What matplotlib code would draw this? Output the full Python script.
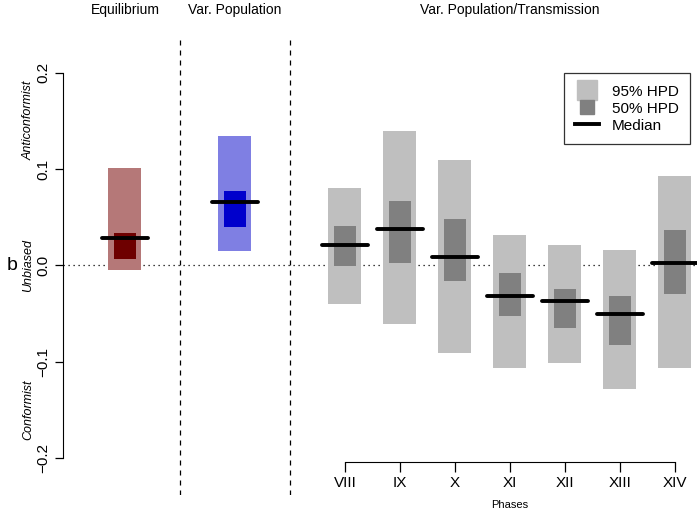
import matplotlib
matplotlib.use('Agg')
import matplotlib.pyplot as plt
from matplotlib.lines import Line2D

plt.rcParams['font.family'] = ['Liberation Sans', 'DejaVu Sans']

# group order: Equilibrium, Var. Population, phases VIII..XIV
groups = ['Equilibrium', 'Var. Population', 'VIII', 'IX', 'X', 'XI', 'XII', 'XIII', 'XIV']
phases = ['VIII', 'IX', 'X', 'XI', 'XII', 'XIII', 'XIV']
hpd95_hi = [0.101, 0.134, 0.080, 0.139, 0.109, 0.031, 0.021, 0.016, 0.093]
hpd95_lo = [-0.005, 0.015, -0.040, -0.061, -0.091, -0.107, -0.101, -0.128, -0.107]
hpd50_hi = [0.033, 0.077, 0.041, 0.067, 0.048, -0.008, -0.025, -0.032, 0.037]
hpd50_lo = [0.006, 0.040, -0.001, 0.002, -0.016, -0.053, -0.065, -0.083, -0.030]
medians = [0.028, 0.066, 0.021, 0.038, 0.009, -0.032, -0.037, -0.051, 0.002]

light_cols = ['#b57878', '#7f7fe3'] + ['#bfbfbf'] * 7
dark_cols = ['#6e0000', '#0000cc'] + ['#808080'] * 7
xpos = [0, 2, 4, 5, 6, 7, 8, 9, 10]

fig = plt.figure(figsize=(6.97, 5.13), dpi=100)
ax = fig.add_axes([63 / 697, 18 / 513, 634 / 697, 457 / 513])
ax.set_xlim(-1.127, 10.4)
ax.set_ylim(-0.2386, 0.236)

for i, x in enumerate(xpos):
    ax.bar(x, hpd95_hi[i] - hpd95_lo[i], bottom=hpd95_lo[i], width=0.6,
           color=light_cols[i], linewidth=0, zorder=2)
    ax.bar(x, hpd50_hi[i] - hpd50_lo[i], bottom=hpd50_lo[i], width=0.4,
           color=dark_cols[i], linewidth=0, zorder=3)
    ax.plot([x - 0.42, x + 0.42], [medians[i], medians[i]], color='black',
            lw=2.8, solid_capstyle='round', zorder=4)

ax.axhline(0, color='black', ls=(0, (1, 3)), lw=0.9, zorder=1)
for xv in [1, 3]:
    ax.axvline(xv, color='black', ls=(0, (4, 4)), lw=0.9, zorder=1)

# axes
for s in ['top', 'right']:
    ax.spines[s].set_visible(False)
ax.spines['left'].set_bounds(-0.2, 0.2)
ax.spines['bottom'].set_position(('data', -0.2043))
ax.spines['bottom'].set_bounds(4, 10)
ax.set_yticks([-0.2, -0.1, 0.0, 0.1, 0.2])
ax.set_yticklabels(['\u22120.2', '\u22120.1', '0.0', '0.1', '0.2'],
                   rotation=90, va='center', fontsize=11)
ax.set_xticks(range(4, 11))
ax.set_xticklabels(phases, fontsize=11)
ax.tick_params(axis='y', length=6, width=0.9, pad=3)
ax.tick_params(axis='x', length=7, width=0.9, pad=3)

ax.text(7, -0.2485, 'Phases', ha='center', va='center', fontsize=8)

# group titles
ax.text(0, 0.265, 'Equilibrium', ha='center', va='center', fontsize=10)
ax.text(2, 0.265, 'Var. Population', ha='center', va='center', fontsize=10)
ax.text(7, 0.265, 'Var. Population/Transmission', ha='center', va='center', fontsize=10)

# y-axis side labels
for lab, yv in [('Anticonformist', 0.15), ('Unbiased', 0.0), ('Conformist', -0.15)]:
    ax.text(-1.76, yv, lab, rotation=90, ha='center', va='center',
            fontsize=9, style='italic', clip_on=False)
ax.text(-2.15, 0.0, 'b', ha='left', va='center', fontsize=14, clip_on=False)

handles = [
    Line2D([], [], marker='s', ms=15, color='#bfbfbf', ls='none'),
    Line2D([], [], marker='s', ms=10, color='#808080', ls='none'),
    Line2D([], [], color='black', lw=2.8),
]
leg = ax.legend(handles, ['95% HPD', '50% HPD', 'Median'], loc='upper right',
                bbox_to_anchor=(0.989, 0.923), fontsize=11, fancybox=False,
                framealpha=1, edgecolor='#333333', handlelength=1.6,
                handletextpad=0.8, labelspacing=0.2, borderpad=0.75,
                borderaxespad=0)
leg.get_frame().set_linewidth(0.9)

fig.savefig('out.png', dpi=100)
